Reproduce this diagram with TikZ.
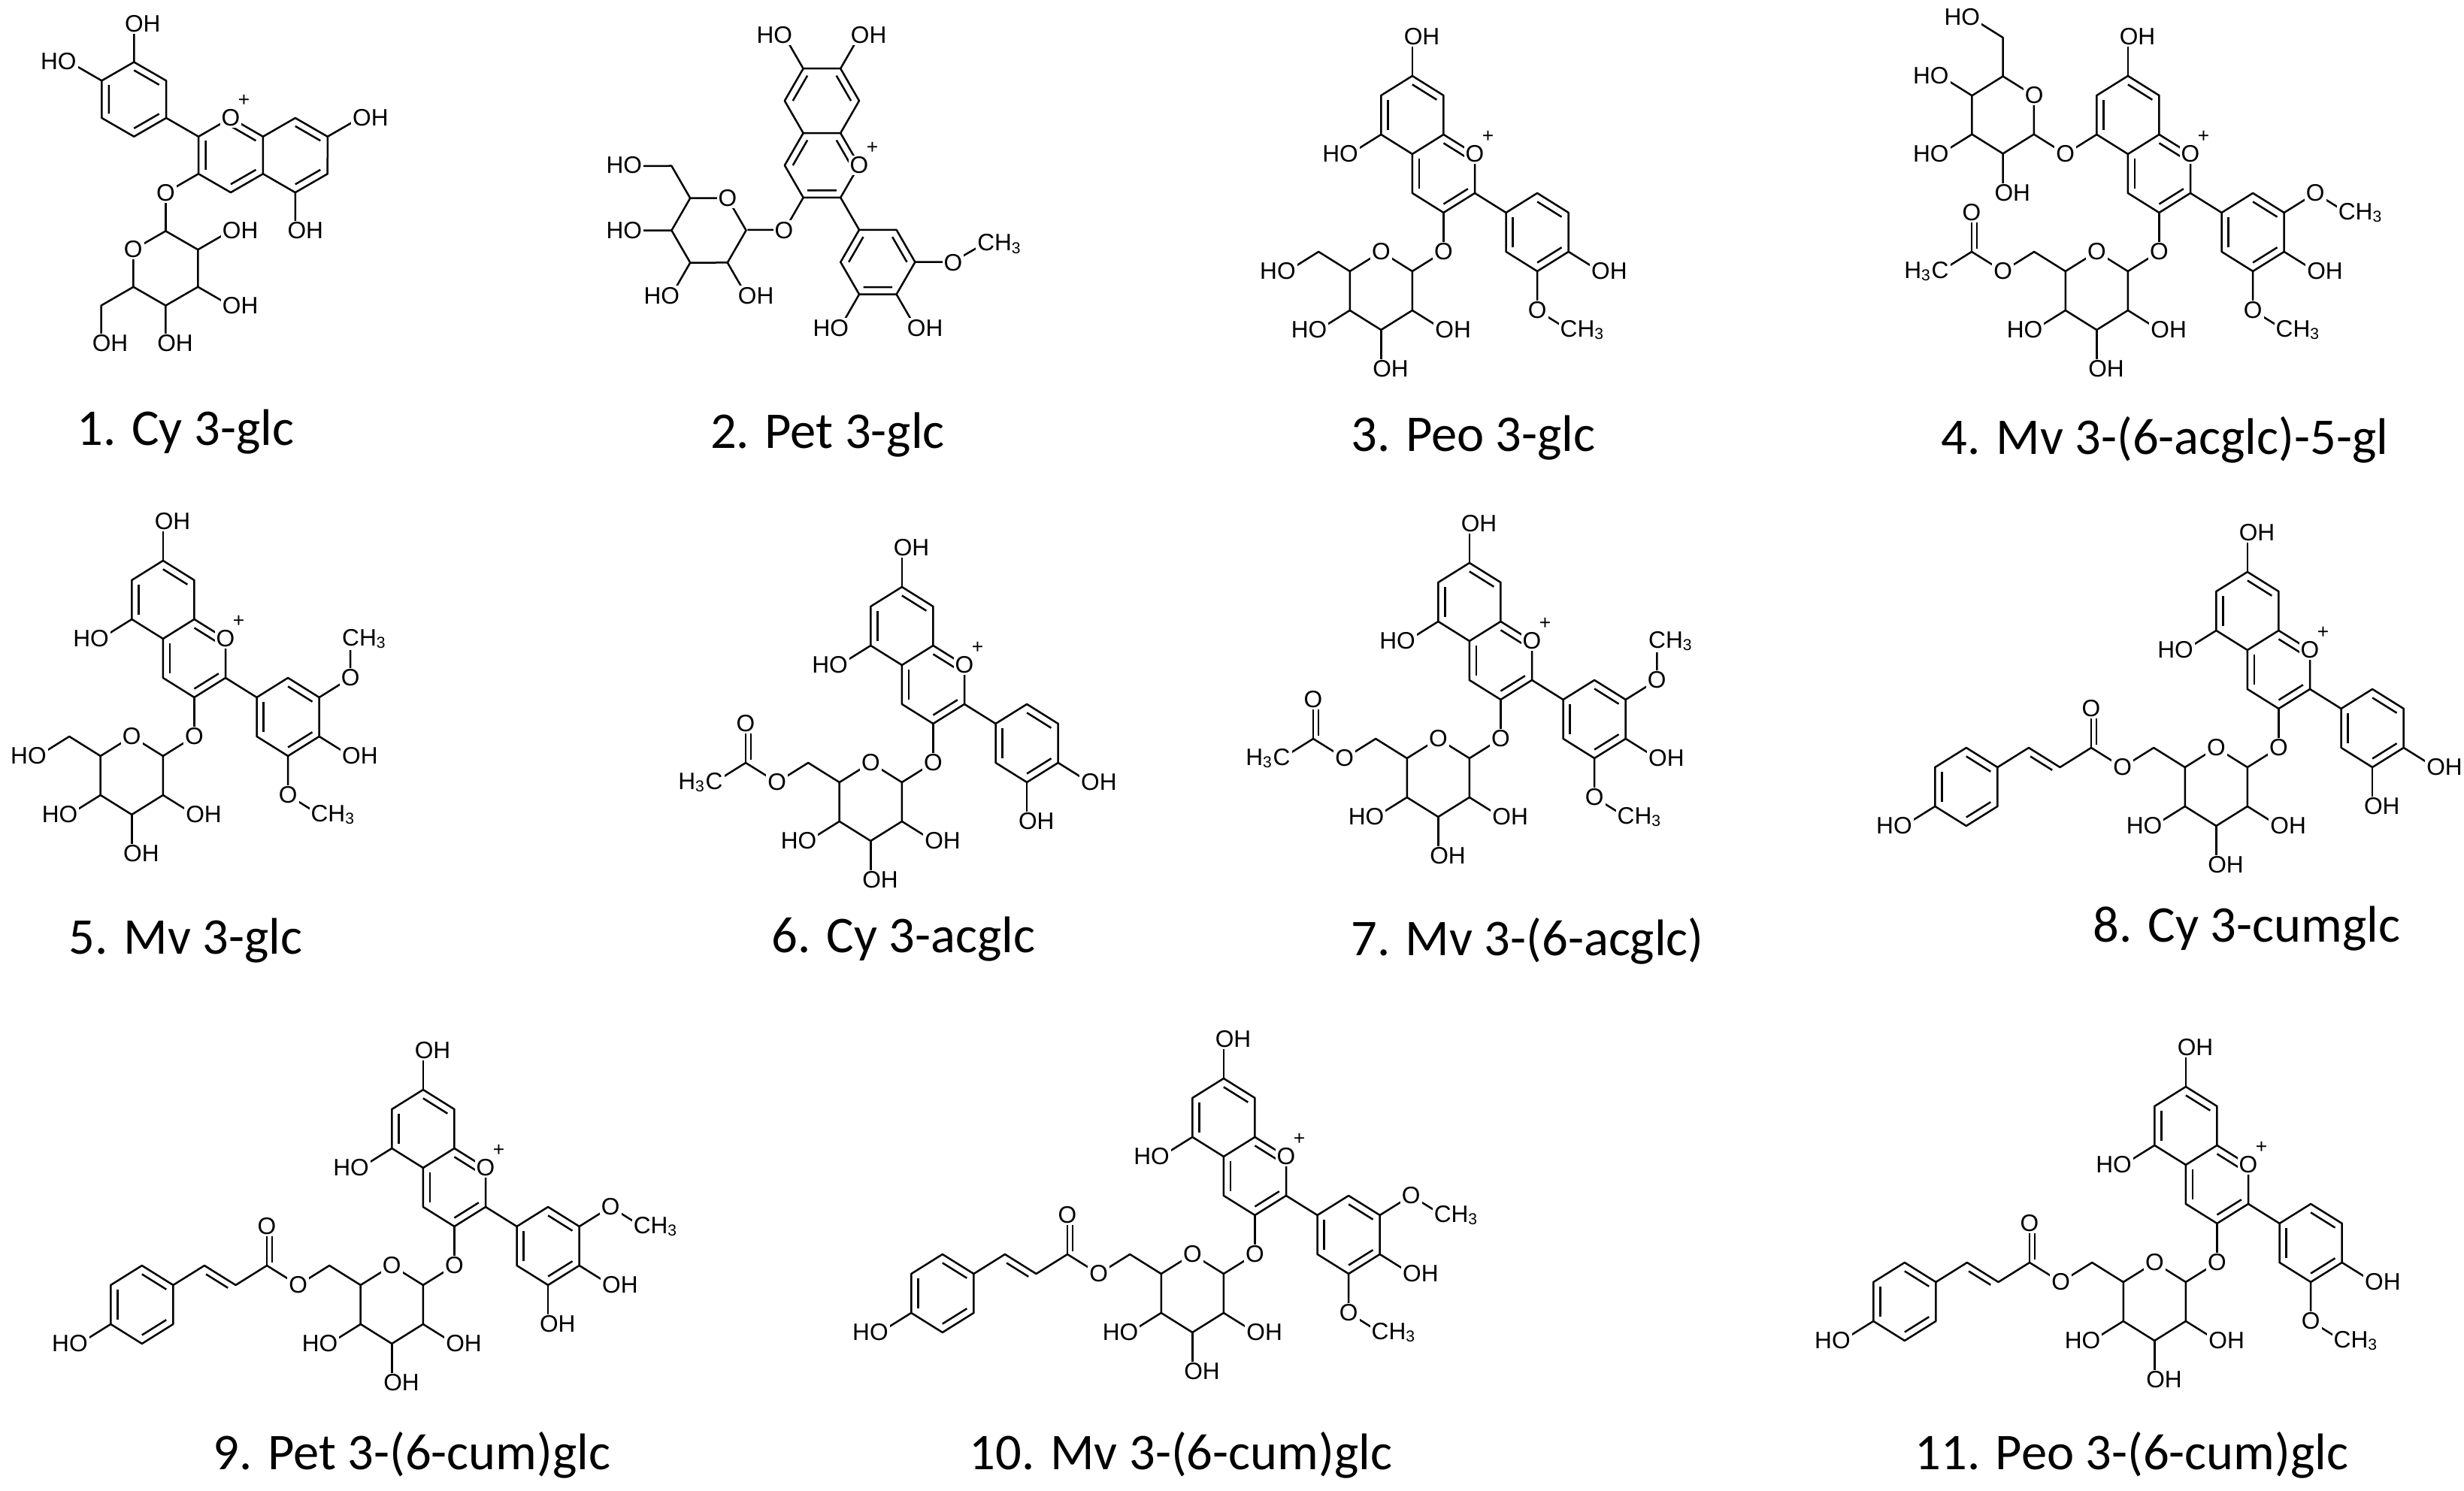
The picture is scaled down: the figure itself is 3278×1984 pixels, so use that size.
\documentclass[tikz,border=0pt]{standalone}
\usepackage{fontspec}
\newfontfamily\atomfont{Liberation Sans}
\newfontfamily\capfont{Carlito}
\usetikzlibrary{calc}

\tikzset{
  atom/.style={font=\atomfont\fontsize{9}{10}\selectfont, inner sep=0.6pt, fill=white},
  oh/.style={atom, anchor=west, xshift=-4.1pt},
  ho/.style={atom, anchor=east, xshift=4.1pt},
  plus/.style={font=\atomfont\fontsize{7.5}{8}\selectfont, inner sep=0pt, xshift=5pt, yshift=6.5pt},
  caption/.style={font=\capfont\fontsize{19.5}{21}\selectfont}
}

% inner line of a double bond, pulled towards the ring centre
\newcommand{\dbl}[3]{\draw ($(#1)!0.22!(#3)$) -- ($(#2)!0.22!(#3)$);}

% flavylium core, O1 at the origin, bond = 1
\newcommand{\flavcore}{%
  \coordinate (ca) at (-1.732,1);
  \coordinate (cc) at (-0.866,-0.5);
  \coordinate (cb) at (1.732,-2);
  \coordinate (o1) at (0,0);
  \coordinate (c2) at (0,-1);
  \coordinate (c3) at (-0.866,-1.5);
  \coordinate (c4) at (-1.732,-1);
  \coordinate (c4a) at (-1.732,0);
  \coordinate (c5) at (-2.598,0.5);
  \coordinate (c6) at (-2.598,1.5);
  \coordinate (c7) at (-1.732,2);
  \coordinate (c8) at (-0.866,1.5);
  \coordinate (c8a) at (-0.866,0.5);
  \coordinate (b1) at (0.866,-1.5);
  \coordinate (b2) at (1.732,-1);
  \coordinate (b3) at (2.598,-1.5);
  \coordinate (b4) at (2.598,-2.5);
  \coordinate (b5) at (1.732,-3);
  \coordinate (b6) at (0.866,-2.5);
  \coordinate (o3) at (-0.866,-2.5);
  \coordinate (o5) at (-3.464,0);
  \coordinate (o6) at (-3.464,2);
  \coordinate (o7) at (-1.732,3);
  \coordinate (ob3) at (3.464,-1);
  \coordinate (ob4) at (3.464,-3);
  \coordinate (ob5) at (1.732,-4);
  \coordinate (me3) at (4.33,-1.5);
  \coordinate (me3u) at (3.464,0);
  \coordinate (me3r) at (3.964,-0.134);
  \coordinate (me5) at (2.598,-4.5);
  \draw (c8a) -- (c8) -- (c7) -- (c6) -- (c5) -- (c4a) -- cycle;
  \draw (c8a) -- (o1) -- (c2) -- (c3) -- (c4) -- (c4a);
  \draw (c2) -- (b1);
  \draw (b1) -- (b2) -- (b3) -- (b4) -- (b5) -- (b6) -- cycle;
  \dbl{c7}{c8}{ca} \dbl{c5}{c6}{ca}
  \dbl{c8a}{o1}{cc} \dbl{c4a}{c4}{cc} \dbl{c2}{c3}{cc}
  \dbl{b2}{b3}{cb} \dbl{b4}{b5}{cb} \dbl{b6}{b1}{cb}
}

% glucose ring, centre at the origin
\newcommand{\glucose}[1]{%
  \coordinate (#1c1) at (0.866,0.5);
  \coordinate (#1o) at (0,1);
  \coordinate (#1c5) at (-0.866,0.5);
  \coordinate (#1c4) at (-0.866,-0.5);
  \coordinate (#1c3) at (0,-1);
  \coordinate (#1c2) at (0.866,-0.5);
  \coordinate (#1c6) at (-1.732,1);
  \coordinate (#1o6) at (-2.598,0.5);
  \coordinate (#1o4) at (-1.732,-1);
  \coordinate (#1o3) at (0,-2);
  \coordinate (#1o2) at (1.732,-1);
  \draw (#1c1) -- (#1o) -- (#1c5) -- (#1c4) -- (#1c3) -- (#1c2) -- cycle;
  \draw (#1c5) -- (#1c6) -- (#1o6);
  \draw (#1c4) -- (#1o4);
  \draw (#1c3) -- (#1o3);
  \draw (#1c2) -- (#1o2);
}

% 6-O-acetyl on glucose g
\newcommand{\acetyl}{%
  \coordinate (ac) at (-3.464,1);
  \coordinate (aco) at (-3.464,2);
  \coordinate (ame) at (-4.33,0.5);
  \draw (go6) -- (ac) -- (ame);
  \draw (ac) -- (aco);
  \draw (ac) ++(0.14,0.08) -- ++(0,0.8);
}

% 6-O-p-coumaroyl on glucose g
\newcommand{\cumaroyl}{%
  \coordinate (ac) at (-3.464,1);
  \coordinate (aco) at (-3.464,2);
  \coordinate (va) at (-4.33,0.5);
  \coordinate (vb) at (-5.196,1);
  \coordinate (p1) at (-6.062,0.5);
  \coordinate (pc) at (-6.928,0);
  \coordinate (p2) at (-6.928,1);
  \coordinate (p3) at (-7.794,0.5);
  \coordinate (p4) at (-7.794,-0.5);
  \coordinate (p5) at (-6.928,-1);
  \coordinate (p6) at (-6.062,-0.5);
  \coordinate (po) at (-8.66,-1);
  \draw (go6) -- (ac) -- (va) -- (vb) -- (p1);
  \draw (ac) -- (aco);
  \draw (ac) ++(0.14,0.08) -- ++(0,0.8);
  \draw (va) ++(-0.215,-0.072) -- ++(-0.606,0.35);
  \draw (p1) -- (p2) -- (p3) -- (p4) -- (p5) -- (p6) -- cycle;
  \draw (p4) -- (po);
  \dbl{p1}{p2}{pc} \dbl{p3}{p4}{pc} \dbl{p5}{p6}{pc}
}

% labels of the core and of a glucose in the usual position
\newcommand{\oxplus}{\node[atom] at (o1) {O}; \node[plus] at (o1) {+};}
\newcommand{\stdglc}{%
  \node[atom] at (o3) {O}; \node[atom] at (go) {O};
  \node[ho] at (go4) {HO}; \node[oh] at (go3) {OH}; \node[oh] at (go2) {OH};
}

\begin{document}
\begin{tikzpicture}[x=0.1mm, y=0.1mm, line width=0.25mm, line join=round]
  \useasboundingbox (0,0) rectangle (3278,1984);

  % 1. Cy 3-glc
  \begin{scope}[shift={(307,1827)}, scale=50]
    \begin{scope}[cm={-0.5,0.866,0.866,0.5,(0,0)}]
      \flavcore
      \draw (c7) -- (o7); \draw (c5) -- (o5); \draw (c3) -- (o3);
      \draw (b3) -- (ob3); \draw (b4) -- (ob4);
    \end{scope}
    \begin{scope}[shift={(-1.732,-4)}, rotate=60]
      \glucose{g}
    \end{scope}
    \draw (o3) -- (gc1);
  \end{scope}
  \oxplus
  \node[oh] at (o7) {OH}; \node[oh] at (o5) {OH};
  \node[oh] at (ob3) {OH}; \node[ho] at (ob4) {HO};
  \node[atom] at (o3) {O}; \node[atom] at (go) {O};
  \node[oh] at (go6) {OH}; \node[oh] at (go4) {OH}; \node[oh] at (go3) {OH}; \node[oh] at (go2) {OH};

  % 2. Pet 3-glc
  \begin{scope}[shift={(1143,1764)}, scale=50]
    \begin{scope}[rotate=-30]
      \flavcore
      \draw (c7) -- (o7); \draw (c6) -- (o6); \draw (c3) -- (o3);
      \draw (b3) -- (ob3) -- (me3r); \draw (b4) -- (ob4); \draw (b5) -- (ob5);
      \begin{scope}[shift={(-2.598,-3.5)}]
        \glucose{g}
      \end{scope}
      \draw (o3) -- (gc1);
    \end{scope}
  \end{scope}
  \oxplus
  \node[oh] at (o7) {OH}; \node[ho] at (o6) {HO};
  \node[atom] at (ob3) {O}; \node[oh] at (me3r) {CH\textsubscript{3}};
  \node[oh] at (ob4) {OH}; \node[ho] at (ob5) {HO};
  \node[atom] at (o3) {O}; \node[atom] at (go) {O};
  \node[ho] at (go6) {HO}; \node[ho] at (go4) {HO}; \node[ho] at (go3) {HO}; \node[oh] at (go2) {OH};

  % 3. Peo 3-glc
  \begin{scope}[shift={(1962,1779)}, xscale=48, yscale=52]
    \flavcore
    \draw (c7) -- (o7); \draw (c5) -- (o5); \draw (c3) -- (o3);
    \draw (b4) -- (ob4); \draw (b5) -- (ob5) -- (me5);
    \begin{scope}[shift={(-2.598,-3.5)}]
      \glucose{g}
    \end{scope}
    \draw (o3) -- (gc1);
  \end{scope}
  \oxplus
  \node[oh] at (o7) {OH}; \node[ho] at (o5) {HO};
  \node[oh] at (ob4) {OH}; \node[atom] at (ob5) {O}; \node[oh] at (me5) {CH\textsubscript{3}};
  \stdglc \node[ho] at (go6) {HO};

  % 4. Mv 3-(6-acglc)-5-gl
  \begin{scope}[shift={(2914,1779)}, xscale=48, yscale=52]
    \flavcore
    \draw (c7) -- (o7); \draw (c5) -- (o5); \draw (c3) -- (o3);
    \draw (b3) -- (ob3) -- (me3); \draw (b4) -- (ob4); \draw (b5) -- (ob5) -- (me5);
    \begin{scope}[shift={(-5.196,1)}, rotate=-60]
      \glucose{h}
    \end{scope}
    \draw (o5) -- (hc1);
    \begin{scope}[shift={(-2.598,-3.5)}]
      \glucose{g}
      \acetyl
    \end{scope}
    \draw (o3) -- (gc1);
  \end{scope}
  \oxplus
  \node[oh] at (o7) {OH}; \node[atom] at (o5) {O};
  \node[atom] at (ob3) {O}; \node[oh] at (me3) {CH\textsubscript{3}};
  \node[oh] at (ob4) {OH}; \node[atom] at (ob5) {O}; \node[oh] at (me5) {CH\textsubscript{3}};
  \node[atom] at (ho) {O};
  \node[ho] at (ho6) {HO}; \node[ho] at (ho4) {HO}; \node[ho] at (ho3) {HO}; \node[oh] at (ho2) {OH};
  \stdglc \node[atom] at (go6) {O}; \node[atom] at (aco) {O}; \node[ho] at (ame) {H\textsubscript{3}C};

  % 5. Mv 3-glc
  \begin{scope}[shift={(300,1134)}, xscale=48, yscale=52]
    \flavcore
    \draw (c7) -- (o7); \draw (c5) -- (o5); \draw (c3) -- (o3);
    \draw (b3) -- (ob3) -- (me3u); \draw (b4) -- (ob4); \draw (b5) -- (ob5) -- (me5);
    \begin{scope}[shift={(-2.598,-3.5)}]
      \glucose{g}
    \end{scope}
    \draw (o3) -- (gc1);
  \end{scope}
  \oxplus
  \node[oh] at (o7) {OH}; \node[ho] at (o5) {HO};
  \node[atom] at (ob3) {O}; \node[oh] at (me3u) {CH\textsubscript{3}};
  \node[oh] at (ob4) {OH}; \node[atom] at (ob5) {O}; \node[oh] at (me5) {CH\textsubscript{3}};
  \stdglc \node[ho] at (go6) {HO};

  % 6. Cy 3-acglc
  \begin{scope}[shift={(1283,1099)}, xscale=48, yscale=52]
    \flavcore
    \draw (c7) -- (o7); \draw (c5) -- (o5); \draw (c3) -- (o3);
    \draw (b4) -- (ob4); \draw (b5) -- (ob5);
    \begin{scope}[shift={(-2.598,-3.5)}]
      \glucose{g}
      \acetyl
    \end{scope}
    \draw (o3) -- (gc1);
  \end{scope}
  \oxplus
  \node[oh] at (o7) {OH}; \node[ho] at (o5) {HO};
  \node[oh] at (ob4) {OH}; \node[oh] at (ob5) {OH};
  \stdglc \node[atom] at (go6) {O}; \node[atom] at (aco) {O}; \node[ho] at (ame) {H\textsubscript{3}C};

  % 7. Mv 3-(6-acglc)
  \begin{scope}[shift={(2038,1131)}, xscale=48, yscale=52]
    \flavcore
    \draw (c7) -- (o7); \draw (c5) -- (o5); \draw (c3) -- (o3);
    \draw (b3) -- (ob3) -- (me3u); \draw (b4) -- (ob4); \draw (b5) -- (ob5) -- (me5);
    \begin{scope}[shift={(-2.598,-3.5)}]
      \glucose{g}
      \acetyl
    \end{scope}
    \draw (o3) -- (gc1);
  \end{scope}
  \oxplus
  \node[oh] at (o7) {OH}; \node[ho] at (o5) {HO};
  \node[atom] at (ob3) {O}; \node[oh] at (me3u) {CH\textsubscript{3}};
  \node[oh] at (ob4) {OH}; \node[atom] at (ob5) {O}; \node[oh] at (me5) {CH\textsubscript{3}};
  \stdglc \node[atom] at (go6) {O}; \node[atom] at (aco) {O}; \node[ho] at (ame) {H\textsubscript{3}C};

  % 8. Cy 3-cumglc
  \begin{scope}[shift={(3073,1119)}, xscale=48, yscale=52]
    \flavcore
    \draw (c7) -- (o7); \draw (c5) -- (o5); \draw (c3) -- (o3);
    \draw (b4) -- (ob4); \draw (b5) -- (ob5);
    \begin{scope}[shift={(-2.598,-3.5)}]
      \glucose{g}
      \cumaroyl
    \end{scope}
    \draw (o3) -- (gc1);
  \end{scope}
  \oxplus
  \node[oh] at (o7) {OH}; \node[ho] at (o5) {HO};
  \node[oh] at (ob4) {OH}; \node[oh] at (ob5) {OH};
  \stdglc \node[atom] at (go6) {O}; \node[atom] at (aco) {O}; \node[ho] at (po) {HO};

  % 9. Pet 3-(6-cum)glc
  \begin{scope}[shift={(646,430)}, xscale=48, yscale=52]
    \flavcore
    \draw (c7) -- (o7); \draw (c5) -- (o5); \draw (c3) -- (o3);
    \draw (b3) -- (ob3) -- (me3); \draw (b4) -- (ob4); \draw (b5) -- (ob5);
    \begin{scope}[shift={(-2.598,-3.5)}]
      \glucose{g}
      \cumaroyl
    \end{scope}
    \draw (o3) -- (gc1);
  \end{scope}
  \oxplus
  \node[oh] at (o7) {OH}; \node[ho] at (o5) {HO};
  \node[atom] at (ob3) {O}; \node[oh] at (me3) {CH\textsubscript{3}};
  \node[oh] at (ob4) {OH}; \node[oh] at (ob5) {OH};
  \stdglc \node[atom] at (go6) {O}; \node[atom] at (aco) {O}; \node[ho] at (po) {HO};

  % 10. Mv 3-(6-cum)glc
  \begin{scope}[shift={(1711,445)}, xscale=48, yscale=52]
    \flavcore
    \draw (c7) -- (o7); \draw (c5) -- (o5); \draw (c3) -- (o3);
    \draw (b3) -- (ob3) -- (me3); \draw (b4) -- (ob4); \draw (b5) -- (ob5) -- (me5);
    \begin{scope}[shift={(-2.598,-3.5)}]
      \glucose{g}
      \cumaroyl
    \end{scope}
    \draw (o3) -- (gc1);
  \end{scope}
  \oxplus
  \node[oh] at (o7) {OH}; \node[ho] at (o5) {HO};
  \node[atom] at (ob3) {O}; \node[oh] at (me3) {CH\textsubscript{3}};
  \node[oh] at (ob4) {OH}; \node[atom] at (ob5) {O}; \node[oh] at (me5) {CH\textsubscript{3}};
  \stdglc \node[atom] at (go6) {O}; \node[atom] at (aco) {O}; \node[ho] at (po) {HO};

  % 11. Peo 3-(6-cum)glc
  \begin{scope}[shift={(2991,434)}, xscale=48, yscale=52]
    \flavcore
    \draw (c7) -- (o7); \draw (c5) -- (o5); \draw (c3) -- (o3);
    \draw (b4) -- (ob4); \draw (b5) -- (ob5) -- (me5);
    \begin{scope}[shift={(-2.598,-3.5)}]
      \glucose{g}
      \cumaroyl
    \end{scope}
    \draw (o3) -- (gc1);
  \end{scope}
  \oxplus
  \node[oh] at (o7) {OH}; \node[ho] at (o5) {HO};
  \node[oh] at (ob4) {OH}; \node[atom] at (ob5) {O}; \node[oh] at (me5) {CH\textsubscript{3}};
  \stdglc \node[atom] at (go6) {O}; \node[atom] at (aco) {O}; \node[ho] at (po) {HO};

  % captions
  \node[caption] (cap1) at (247,1409) {1. Cy 3-glc};
  \node[caption] (cap2) at (1101,1405) {2. Pet 3-glc};
  \node[caption] (cap3) at (1960,1401) {3. Peo 3-glc};
  \node[caption] (cap4) at (2880,1399) {4. Mv 3-(6-acglc)-5-gl};
  \node[caption] (cap5) at (247,732) {5. Mv 3-glc};
  \node[caption] (cap6) at (1202,734) {6. Cy 3-acglc};
  \node[caption] (cap7) at (2032,732) {7. Mv 3-(6-acglc)};
  \node[caption] (cap8) at (2989,748) {8. Cy 3-cumglc};
  \node[caption] (cap9) at (548,48) {9. Pet 3-(6-cum)glc};
  \node[caption] (cap10) at (1571,48) {10. Mv 3-(6-cum)glc};
  \node[caption] (cap11) at (2836,48) {11. Peo 3-(6-cum)glc};
\end{tikzpicture}
\end{document}
